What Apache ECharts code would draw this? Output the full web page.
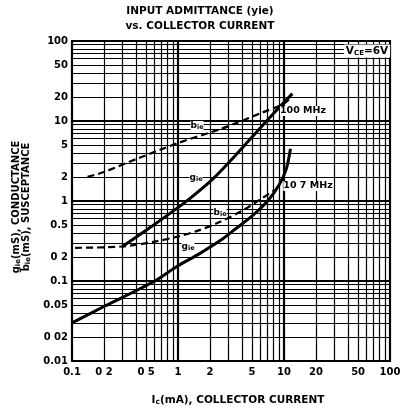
<!DOCTYPE html>
<html>
<head>
<meta charset="utf-8">
<script src="https://cdn.jsdelivr.net/npm/echarts@6/dist/echarts.min.js"></script>
<style>
  html, body { margin: 0; padding: 0; background: #fff; }
  #chart { width: 400px; height: 411px; }
</style>
</head>
<body>
<div id="chart"></div>
<script>
// [Ic (mA), value (mS)]
const gie100 = [[0.3, 0.27], [0.5, 0.43], [0.84, 0.7], [1.3, 1.08], [2.1, 1.85], [3, 3.0], [5, 6.3], [8, 12.5], [12, 22]];
const bie100 = [[0.14, 2.0], [0.2, 2.3], [0.44, 3.5], [1, 5.3], [2.5, 7.9], [3.6, 9.5], [6, 12.5], [10, 16.5], [11.8, 20]];
const gie107 = [[0.1, 0.03], [0.2, 0.048], [0.58, 0.097], [1, 0.155], [1.6, 0.22], [2.5, 0.32], [3.5, 0.45], [5, 0.65], [7, 1.0], [9, 1.6], [10.5, 2.5], [11.5, 4.5]];
const bie107 = [[0.107, 0.26], [0.3, 0.27], [0.6, 0.31], [1, 0.36], [1.5, 0.42], [2.5, 0.55], [4, 0.75], [6, 1.05], [8, 1.35]];

// tick labels (as printed)
const xTickValues = [0.1, 0.2, 0.5, 1, 2, 5, 10, 20, 50, 100];
const xTickLabels = ['0.1', '0 2', '0 5', '1', '2', '5', '10', '20', '50', '100'];
const yTickValues = [0.01, 0.02, 0.05, 0.1, 0.2, 0.5, 1, 2, 5, 10, 20, 50, 100];
const yTickLabels = ['0.01', '0 02', '0.05', '0.1', '0 2', '0.5', '1', '2', '5', '10', '20', '50', '100'];

const xDecades = [0.1, 1, 10];
const yDecades = [0.01, 0.1, 1, 10];

const FONT = 'DejaVu Sans';

// log paper lines: 1..9 in every decade
function paperLines(decades, last) {
  const out = [];
  decades.forEach(d => {
    for (let m = 1; m <= 9; m++) out.push({ v: +(d * m).toPrecision(6), major: m === 1 });
  });
  out.push({ v: last, major: true });
  return out;
}

function markItems(key, decades, last, tickValues, tickLabels, dist) {
  return paperLines(decades, last).map(l => {
    const idx = tickValues.findIndex(t => Math.abs(t - l.v) < 1e-9);
    const item = {
      lineStyle: { color: '#000', width: l.major ? 2.2 : 1.2, type: 'solid', opacity: 1 },
      label: {
        show: idx >= 0,
        position: 'start',
        formatter: idx >= 0 ? tickLabels[idx] : '',
        color: '#000',
        fontFamily: FONT,
        fontWeight: 'bold',
        fontSize: 10,
        distance: dist
      }
    };
    item[key] = l.v;
    return item;
  });
}

const chart = echarts.init(document.getElementById('chart'), null, { renderer: 'canvas' });

const curveBase = { type: 'line', symbol: 'none', smooth: 0.3, z: 10, silent: true };

const option = {
  animation: false,
  grid: { left: 72, right: 10, top: 41, bottom: 50, show: true, borderColor: '#000', borderWidth: 2, backgroundColor: '#fff' },
  xAxis: {
    type: 'log', logBase: 10, min: 0.1, max: 100,
    axisLine: { show: false }, axisTick: { show: false }, axisLabel: { show: false }, splitLine: { show: false }
  },
  yAxis: {
    type: 'log', logBase: 10, min: 0.01, max: 100,
    axisLine: { show: false }, axisTick: { show: false }, axisLabel: { show: false }, splitLine: { show: false }
  },
  series: [
    {
      type: 'line', data: [], symbol: 'none', silent: true, z: 1,
      markLine: {
        silent: true, symbol: ['none', 'none'], animation: false,
        data: markItems('xAxis', xDecades, 100, xTickValues, xTickLabels, 6)
          .concat(markItems('yAxis', yDecades, 100, yTickValues, yTickLabels, 4))
      }
    },
    Object.assign({ name: 'gie 100MHz', data: gie100, lineStyle: { color: '#000', width: 3 } }, curveBase),
    Object.assign({ name: 'bie 100MHz', data: bie100, lineStyle: { color: '#000', width: 2.2, type: [7, 4] } }, curveBase),
    Object.assign({ name: 'gie 10.7MHz', data: gie107, lineStyle: { color: '#000', width: 3 } }, curveBase),
    Object.assign({ name: 'bie 10.7MHz', data: bie107, lineStyle: { color: '#000', width: 2.2, type: [7, 4] } }, curveBase)
  ],
  graphic: [
    { type: 'text', left: 'center', top: 6, z: 100, style: { text: 'INPUT ADMITTANCE (yie)', font: 'bold 10.5px "DejaVu Sans"', fill: '#000' }, x: -16 },
    { type: 'text', left: 'center', top: 21, z: 100, style: { text: 'vs. COLLECTOR CURRENT', font: 'bold 10.5px "DejaVu Sans"', fill: '#000' }, x: -16 },
    {
      type: 'text', x: 238, y: 400, z: 100,
      style: {
        text: '{b|I}{s|c}{b|(mA), COLLECTOR CURRENT}', align: 'center', verticalAlign: 'middle',
        rich: { b: { fontFamily: FONT, fontWeight: 'bold', fontSize: 10.5, fill: '#000' }, s: { fontFamily: FONT, fontWeight: 'bold', fontSize: 7.5, fill: '#000', padding: [5, 0, 0, 0] } }
      }
    },
    {
      type: 'text', x: 21, y: 207, rotation: Math.PI / 2, z: 100,
      style: {
        text: '{b|g}{s|ie}{b|(mS), CONDUCTANCE}\n{b|b}{s|ie}{b|(mS), SUSCEPTANCE}', align: 'center', verticalAlign: 'middle', lineHeight: 10,
        rich: { b: { fontFamily: FONT, fontWeight: 'bold', fontSize: 10, fill: '#000', lineHeight: 10 }, s: { fontFamily: FONT, fontWeight: 'bold', fontSize: 7, fill: '#000', lineHeight: 10, padding: [4, 0, 0, 0] } }
      }
    },
    {
      type: 'text', x: 367, y: 51, z: 100,
      style: {
        text: '{b|V}{s|CE}{b|=6V}', align: 'center', verticalAlign: 'middle', backgroundColor: '#fff', padding: [1, 2],
        rich: { b: { fontFamily: FONT, fontWeight: 'bold', fontSize: 10.5, fill: '#000' }, s: { fontFamily: FONT, fontWeight: 'bold', fontSize: 7, fill: '#000', padding: [4, 0, 0, 0] } }
      }
    },
    // curve labels
    { type: 'text', x: 197, y: 126, z: 100, style: { text: '{b|b}{s|ie}', align: 'center', verticalAlign: 'middle', backgroundColor: '#fff', rich: { b: { fontFamily: FONT, fontWeight: 'bold', fontSize: 9 }, s: { fontFamily: FONT, fontWeight: 'bold', fontSize: 6.5, padding: [3, 0, 0, 0] } } } },
    { type: 'text', x: 196, y: 178, z: 100, style: { text: '{b|g}{s|ie}', align: 'center', verticalAlign: 'middle', backgroundColor: '#fff', rich: { b: { fontFamily: FONT, fontWeight: 'bold', fontSize: 9 }, s: { fontFamily: FONT, fontWeight: 'bold', fontSize: 6.5, padding: [3, 0, 0, 0] } } } },
    { type: 'text', x: 220, y: 213, z: 100, style: { text: '{b|b}{s|ie}', align: 'center', verticalAlign: 'middle', backgroundColor: '#fff', rich: { b: { fontFamily: FONT, fontWeight: 'bold', fontSize: 9 }, s: { fontFamily: FONT, fontWeight: 'bold', fontSize: 6.5, padding: [3, 0, 0, 0] } } } },
    { type: 'text', x: 188, y: 247, z: 100, style: { text: '{b|g}{s|ie}', align: 'center', verticalAlign: 'middle', backgroundColor: '#fff', rich: { b: { fontFamily: FONT, fontWeight: 'bold', fontSize: 9 }, s: { fontFamily: FONT, fontWeight: 'bold', fontSize: 6.5, padding: [3, 0, 0, 0] } } } },
    { type: 'text', x: 303, y: 111, z: 100, style: { text: '100 MHz', align: 'center', verticalAlign: 'middle', backgroundColor: '#fff', font: 'bold 9.5px "DejaVu Sans"', fill: '#000' } },
    { type: 'text', x: 308, y: 186, z: 100, style: { text: '10 7 MHz', align: 'center', verticalAlign: 'middle', backgroundColor: '#fff', font: 'bold 9.5px "DejaVu Sans"', fill: '#000' } }
  ]
};

chart.setOption(option);
</script>
</body>
</html>
